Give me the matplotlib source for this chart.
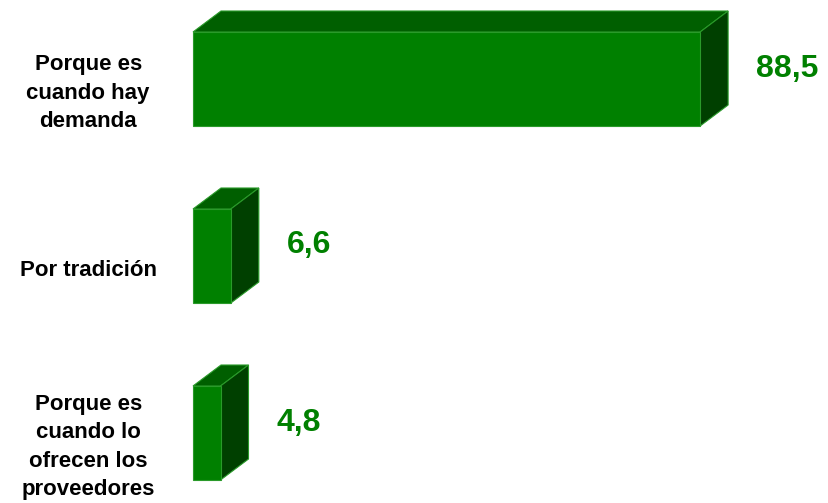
import matplotlib
matplotlib.use("Agg")
import matplotlib.pyplot as plt
from matplotlib.patches import Polygon

# data
categories = ["Porque es\ncuando hay\ndemanda", "Por tradición", "Porque es\ncuando lo\nofrecen los\nproveedores"]
values = [88.5, 6.6, 4.8]

front_col = "#008000"
top_col = "#005f00"
side_col = "#004000"
edge_col = "#2a9a2a"

W, H = 829, 503
fig = plt.figure(figsize=(W/100, H/100), dpi=100)
ax = fig.add_axes([0, 0, 1, 1])

# layout in pixels -> data units
px_per_unit = 5.73
x0_px = 193
y0_px = 79
row_px = 177
ax.set_xlim(-x0_px/px_per_unit, (W - x0_px)/px_per_unit)
ax.set_ylim((H - y0_px)/row_px, -y0_px/row_px)
ax.axis("off")

bar_h = 94/row_px
dx = 28/px_per_unit
dy = -21/row_px

ys = list(range(len(values)))
ax.barh(ys, values, height=bar_h, color=front_col, edgecolor=edge_col, linewidth=0.8, zorder=3)

for y, v in zip(ys, values):
    top = y - bar_h/2
    bot = y + bar_h/2
    ax.add_patch(Polygon([(0, top), (dx, top+dy), (v+dx, top+dy), (v, top)], closed=True,
                         facecolor=top_col, edgecolor=edge_col, linewidth=0.8, zorder=2))
    ax.add_patch(Polygon([(v, top), (v+dx, top+dy), (v+dx, bot+dy), (v, bot)], closed=True,
                         facecolor=side_col, edgecolor=edge_col, linewidth=0.8, zorder=2))
    ax.annotate(f"{v:.1f}".replace(".", ","), xy=(v+dx, y+dy/2), xytext=(20, 0),
                textcoords="offset points", ha="left", va="center",
                fontsize=23, fontweight="bold", color=front_col, family="Liberation Sans")

for y, c in zip(ys, categories):
    ax.text(-18.3, y + 14/row_px, c, ha="center", va="center", multialignment="center",
            fontsize=16, fontweight="bold", color="black", family="Liberation Sans", linespacing=1.45)

fig.savefig("out.png", dpi=100)
